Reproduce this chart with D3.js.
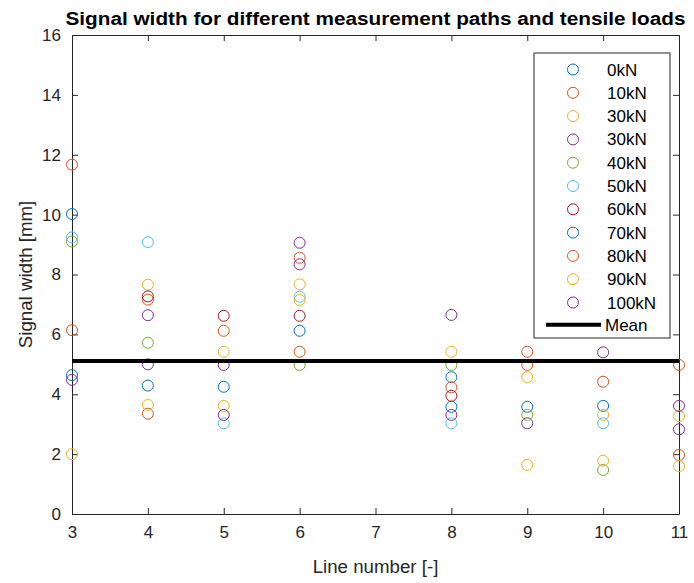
<!DOCTYPE html>
<html>
<head>
<meta charset="utf-8">
<script src="https://cdn.jsdelivr.net/npm/d3@7"></script>
<style>
  body { margin: 0; background: #fff; }
  svg { display: block; font-family: "Liberation Sans", Arial, sans-serif; }
  .tick text { fill: #262626; font-size: 17px; }
  .title { font-weight: bold; font-size: 18.7px; fill: #000; }
  .label { font-size: 18.7px; fill: #262626; }
  .legend text { font-size: 17px; fill: #000; }
</style>
</head>
<body>
<svg></svg>
<script>
// line numbers on the x axis
var lines = [3, 4, 5, 6, 8, 9, 10, 11]

// legend names, one per series
var loads = ["0kN", "10kN", "30kN", "30kN", "40kN", "50kN", "60kN", "70kN", "80kN", "90kN", "100kN"]

// signal width per series, same order as lines (null = not visible)
var w0kN   = [10.02, 4.29, 4.25, 6.12, 4.57, 3.58, 3.61, null]
var w10kN  = [11.67, 7.16, 6.12, 8.56, 4.23, 5.42, 4.42, 4.98]
var w30kNa = [2.00, 7.66, 5.42, 7.67, 5.42, 4.57, 3.31, 3.27]
var w30kNb = [4.48, 6.64, 4.98, 9.06, 6.65, 3.03, null, 3.61]
var w40kN  = [9.10, 5.72, null, 4.98, 4.98, 3.31, 1.47, null]
var w50kN  = [9.24, 9.08, 3.03, 7.26, 3.03, null, 3.03, null]
var w60kN  = [null, 7.27, 6.62, 6.62, 3.95, null, null, null]
var w70kN  = [4.64, null, null, null, 3.58, null, null, null]
var w80kN  = [6.14, 3.35, null, 5.42, null, 4.98, null, 1.97]
var w90kN  = [null, 3.64, 3.61, 7.15, null, 1.64, 1.78, 1.60]
var w100kN = [null, 5.00, 3.31, 8.34, 3.31, null, 5.40, 2.83]

var seriesValues = [w0kN, w10kN, w30kNa, w30kNb, w40kN, w50kN, w60kN, w70kN, w80kN, w90kN, w100kN]

var meanWidth = 5.11

var xTicks = [3, 4, 5, 6, 7, 8, 9, 10, 11]
var yTicks = [0, 2, 4, 6, 8, 10, 12, 14, 16]

// matlab default colour order
var colors = ["#0072BD", "#D95319", "#EDB120", "#7E2F8E", "#77AC30", "#4DBEEE", "#A2142F"]

var screen = {width: 694, height: 583}
var margins = {left: 72, right: 15, top: 35, bottom: 69}
var graph = {
    width: screen.width - margins.left - margins.right,
    height: screen.height - margins.top - margins.bottom
}

var svg = d3.select("svg")
    .attr("width", screen.width)
    .attr("height", screen.height)

var xScale = d3.scaleLinear().domain([3, 11]).range([0, graph.width])
var yScale = d3.scaleLinear().domain([0, 16]).range([graph.height, 0])

var plot = svg.append("g")
    .attr("transform", "translate(" + margins.left + "," + margins.top + ")")

// axes with inward ticks, box on
var drawAxes = function()
{
    var tickLen = 6
    var bottom = plot.append("g")
        .attr("transform", "translate(0," + graph.height + ")")
        .call(d3.axisBottom(xScale).tickValues(xTicks).tickSizeInner(-tickLen).tickSizeOuter(0).tickPadding(12))
    var left = plot.append("g")
        .call(d3.axisLeft(yScale).tickValues(yTicks).tickSizeInner(-tickLen).tickSizeOuter(0).tickPadding(11))
    var top = plot.append("g")
        .call(d3.axisTop(xScale).tickValues(xTicks).tickSizeInner(-tickLen).tickSizeOuter(0).tickFormat(""))
    var right = plot.append("g")
        .attr("transform", "translate(" + graph.width + ",0)")
        .call(d3.axisRight(yScale).tickValues(yTicks).tickSizeInner(-tickLen).tickSizeOuter(0).tickFormat(""))

    ;[bottom, left, top, right].forEach(function(g)
    {
        g.select(".domain").attr("stroke", "#262626").attr("stroke-width", 1)
        g.selectAll(".tick line").attr("stroke", "#262626")
    })
}

var drawPoints = function()
{
    seriesValues.forEach(function(values, i)
    {
        var pts = values.map(function(v, j) { return {x: lines[j], y: v} })
            .filter(function(d) { return d.y !== null })
        plot.append("g")
            .selectAll("circle")
            .data(pts)
            .enter()
            .append("circle")
            .attr("cx", function(d) { return xScale(d.x) })
            .attr("cy", function(d) { return yScale(d.y) })
            .attr("r", 5.5)
            .attr("fill", "none")
            .attr("stroke", colors[i % colors.length])
            .attr("stroke-width", 1)
    })

    plot.append("line")
        .attr("x1", xScale(3))
        .attr("x2", xScale(11))
        .attr("y1", yScale(meanWidth))
        .attr("y2", yScale(meanWidth))
        .attr("stroke", "#000")
        .attr("stroke-width", 4)
}

var drawLabels = function()
{
    svg.append("text")
        .text("Signal width for different measurement paths and tensile loads")
        .classed("title", true)
        .attr("text-anchor", "middle")
        .attr("x", margins.left + graph.width / 2)
        .attr("y", 25)
        .attr("textLength", 620)
        .attr("lengthAdjust", "spacingAndGlyphs")

    svg.append("text")
        .text("Line number [-]")
        .classed("label", true)
        .attr("text-anchor", "middle")
        .attr("x", margins.left + graph.width / 2)
        .attr("y", 573)

    svg.append("g")
        .attr("transform", "translate(32," + (margins.top + graph.height / 2) + ")")
        .append("text")
        .text("Signal width [mm]")
        .classed("label", true)
        .attr("text-anchor", "middle")
        .attr("transform", "rotate(270)")
}

var drawLegend = function()
{
    var box = {x: 534, y: 53, width: 136, height: 285}
    var legend = svg.append("g").classed("legend", true)

    legend.append("rect")
        .attr("x", box.x)
        .attr("y", box.y)
        .attr("width", box.width)
        .attr("height", box.height)
        .attr("fill", "#fff")
        .attr("stroke", "#262626")
        .attr("stroke-width", 1)

    var entries = legend.selectAll("g.entry")
        .data(loads)
        .enter()
        .append("g")
        .classed("entry", true)
        .attr("transform", function(d, i) { return "translate(0," + (69.5 + i * 23.3) + ")" })

    entries.append("circle")
        .attr("cx", 573)
        .attr("cy", 0)
        .attr("r", 5.5)
        .attr("fill", "none")
        .attr("stroke", function(d, i) { return colors[i % colors.length] })

    entries.append("text")
        .text(function(d) { return d })
        .attr("x", 607)
        .attr("y", 6)

    var meanY = 69.5 + loads.length * 23.3 - 1
    legend.append("line")
        .attr("x1", 546).attr("x2", 601)
        .attr("y1", meanY).attr("y2", meanY)
        .attr("stroke", "#000")
        .attr("stroke-width", 4)
    legend.append("text")
        .text("Mean")
        .attr("x", 605)
        .attr("y", meanY + 6)
}

drawAxes()
drawPoints()
drawLabels()
drawLegend()
</script>
</body>
</html>
